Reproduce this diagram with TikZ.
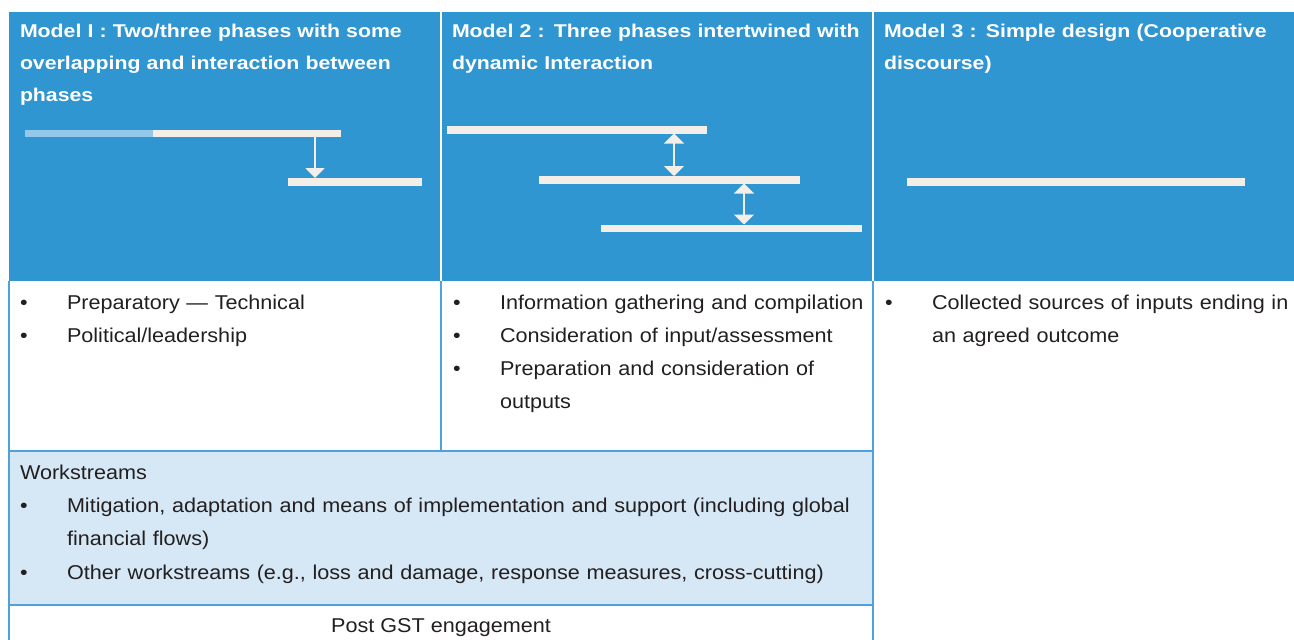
\documentclass[tikz,border=0pt]{standalone}
\usepackage{fontspec}
\setmainfont{Liberation Sans}
\newfontfamily\hdrfont{Liberation Sans}[FakeStretch=1.15]
\newfontfamily\bodyfont{Liberation Sans}[FakeStretch=1.08]
\usetikzlibrary{arrows.meta}
\definecolor{hdrblue}{RGB}{48,150,210}
\definecolor{barcream}{RGB}{243,239,232}
\definecolor{barlight}{RGB}{146,200,234}
\definecolor{wsfill}{RGB}{214,232,246}
\definecolor{gridcol}{RGB}{80,160,220}
\definecolor{textcol}{RGB}{35,31,32}
\begin{document}
\begin{tikzpicture}[x=1pt,y=-1pt,
  hdr/.style={anchor=base west, inner sep=0, outer sep=0, align=left, text width=420pt, text=white,
    font=\hdrfont\bfseries\fontsize{18.5}{32}\selectfont},
  txt/.style={anchor=base west, inner sep=0, outer sep=0, align=left, text width=800pt, text=textcol,
    font=\bodyfont\fontsize{20}{33}\selectfont},
  bul/.style={anchor=base, inner sep=0, outer sep=0, text=textcol, font=\bodyfont\fontsize{20}{33}\selectfont},
  bar/.style={anchor=north west, inner sep=0, outer sep=0, fill=barcream, minimum height=7.5pt},
  lightbar/.style={anchor=north west, inner sep=0, outer sep=0, fill=barlight, minimum height=7.5pt},
  grid/.style={draw=gridcol, line width=1.5pt},
  sep/.style={draw=white, line width=1.5pt},
  onearrow/.style={draw=barcream, line width=2pt, -{Triangle[width=19pt,length=10pt]}},
  twoarrow/.style={draw=barcream, line width=2pt, {Triangle[width=20pt,length=10pt]}-{Triangle[width=20pt,length=10pt]}}
]
\useasboundingbox (0,0) rectangle (1294,640);

% header band
\path[fill=hdrblue] (9,12) rectangle (1294,281);
\draw[sep] (441,12) -- (441,281);
\draw[sep] (873,12) -- (873,281);

% workstreams band
\path[fill=wsfill] (9,451) rectangle (873,605);

% grid lines
\draw[grid] (9,281) -- (9,640);
\draw[grid] (441,281) -- (441,451);
\draw[grid] (873,281) -- (873,640);
\draw[grid] (9,451) -- (873,451);
\draw[grid] (9,605) -- (873,605);

% header texts
\node[hdr] (h1) at (20,37.5) {Model I : Two/three phases with some\\overlapping and interaction between\\phases};
\node[hdr] (h2) at (452,37.5) {Model 2 : Three phases intertwined with\\dynamic Interaction};
\node[hdr] (h3) at (884,37.5) {Model 3 : Simple design (Cooperative\\discourse)};

% model 1 bars
\node[bar, minimum width=316pt] (b1a) at (25,129.5) {};
\node[lightbar, minimum width=128pt] (b1l) at (25,129.5) {};
\node[bar, minimum width=134pt] (b1b) at (288,178) {};
\coordinate (a1) at (315,0);
\draw[onearrow] (b1a.south -| a1) -- (b1b.north -| a1);

% model 2 bars
\node[bar, minimum width=260pt] (b2a) at (447,126) {};
\node[bar, minimum width=261pt] (b2b) at (539,176) {};
\node[bar, minimum width=261pt] (b2c) at (601,224.5) {};
\coordinate (a2) at (674,0);
\coordinate (a3) at (744,0);
\draw[twoarrow] (b2a.south -| a2) -- (b2b.north -| a2);
\draw[twoarrow] (b2b.south -| a3) -- (b2c.north -| a3);

% model 3 bar
\node[bar, minimum width=338pt] (b3) at (907,178) {};

% column 1 body
\node[bul] (u11) at (24,309.5) {•};
\node[txt] (t11) at (67,309.5) {Preparatory — Technical};
\node[bul] (u12) at (24,342) {•};
\node[txt] (t12) at (67,342) {Political/leadership};

% column 2 body
\node[bul] (u21) at (457,309.5) {•};
\node[txt] (t21) at (500,309.5) {Information gathering and compilation};
\node[bul] (u22) at (457,342) {•};
\node[txt] (t22) at (500,342) {Consideration of input/assessment};
\node[bul] (u23) at (457,375) {•};
\node[txt] (t23) at (500,375) {Preparation and consideration of\\outputs};

% column 3 body
\node[bul] (u31) at (889,309.5) {•};
\node[txt] (t31) at (932,309.5) {Collected sources of inputs ending in\\an agreed outcome};

% workstreams
\node[txt] (w0) at (20,479) {Workstreams};
\node[bul] (uw1) at (24,512.5) {•};
\node[txt] (w1) at (67,512.5) {Mitigation, adaptation and means of implementation and support (including global\\financial flows)};
\node[bul] (uw2) at (24,579) {•};
\node[txt] (w2) at (67,579) {Other workstreams (e.g., loss and damage, response measures, cross-cutting)};

% post GST
\node[anchor=base, inner sep=0, text=textcol, font=\bodyfont\fontsize{20}{33}\selectfont] (pg) at (441,632) {Post GST engagement};
\end{tikzpicture}
\end{document}
